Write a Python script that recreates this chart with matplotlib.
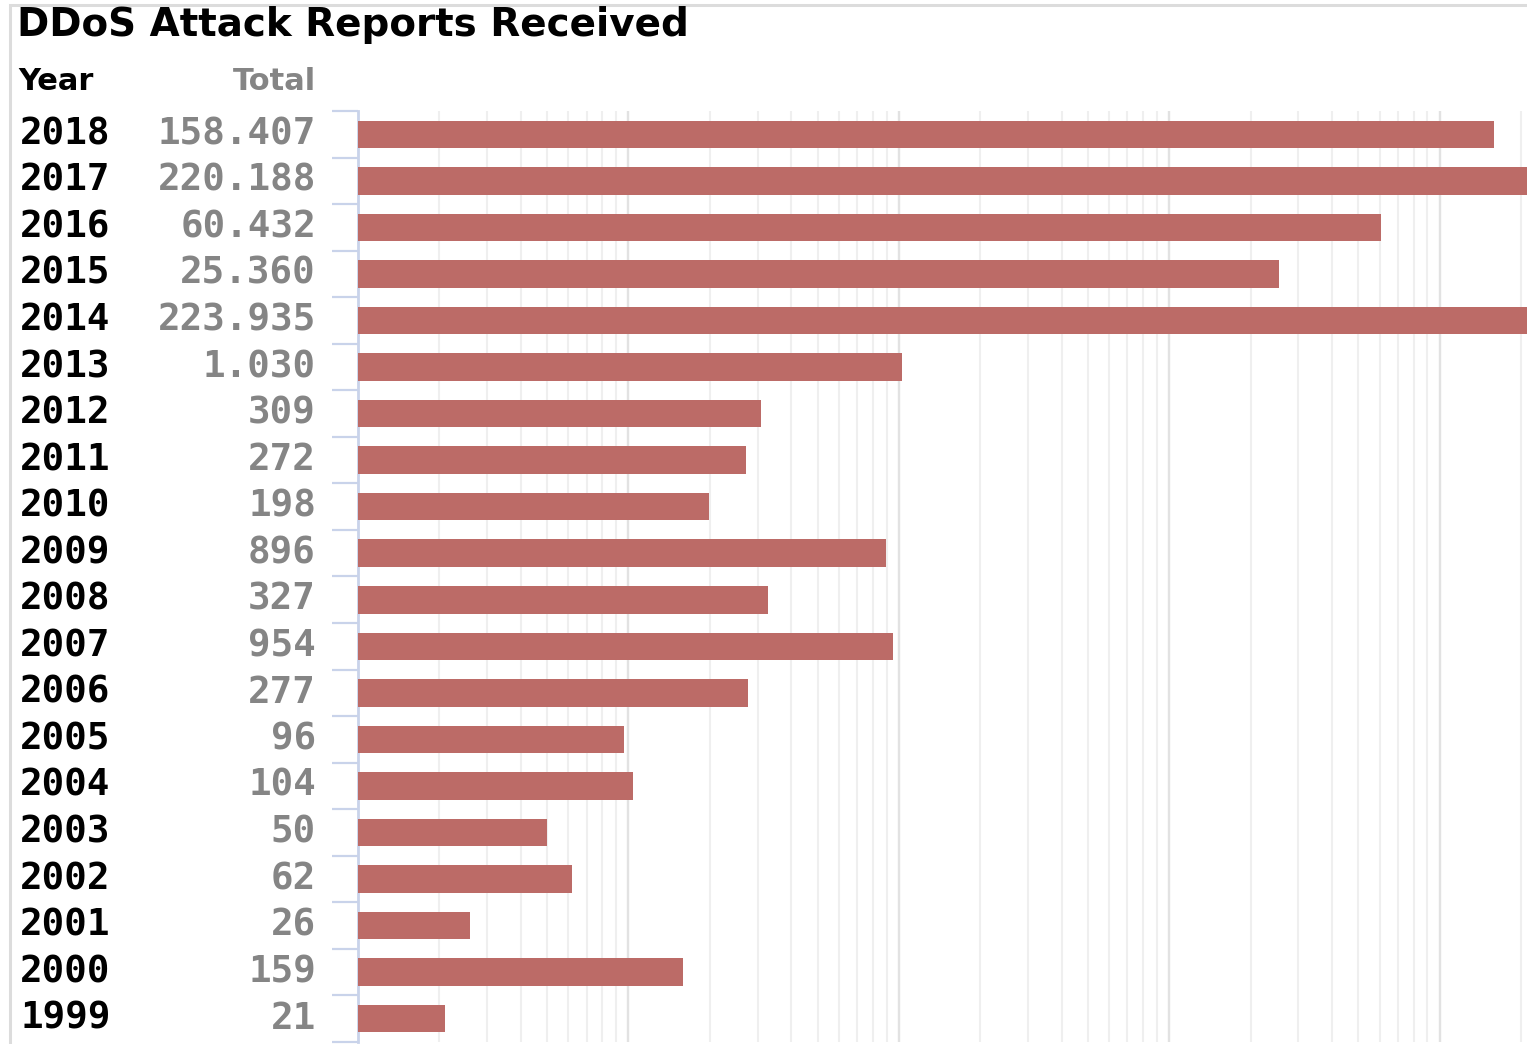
import matplotlib
matplotlib.use("Agg")
import matplotlib.pyplot as plt
from matplotlib.patches import Rectangle
from matplotlib.transforms import blended_transform_factory
from matplotlib.ticker import LogLocator, NullFormatter, FixedLocator
import numpy as np

years = ['2018', '2017', '2016', '2015', '2014', '2013', '2012', '2011', '2010', '2009',
         '2008', '2007', '2006', '2005', '2004', '2003', '2002', '2001', '2000', '1999']
totals = [158407, 220188, 60432, 25360, 223935, 1030, 309, 272, 198, 896,
          327, 954, 277, 96, 104, 50, 62, 26, 159, 21]

W, H = 1527, 1044
fig = plt.figure(figsize=(W / 100, H / 100), dpi=100)
ax = fig.add_axes([358 / W, 1 - 1042 / H, 1 - 358 / W, (1042 - 111) / H])

y = np.arange(len(years))
ax.barh(y, totals, height=0.59, color='#bc6b67', zorder=3)
ax.set_xscale('log')
ax.set_xlim(10, 2.1e5)
ax.set_ylim(len(years) - 0.5, -0.5)

# log grid
ax.xaxis.set_major_locator(LogLocator(base=10))
ax.xaxis.set_minor_locator(LogLocator(base=10, subs=np.arange(2, 10)))
ax.xaxis.set_major_formatter(NullFormatter())
ax.xaxis.set_minor_formatter(NullFormatter())
ax.grid(True, which='major', axis='x', color='#e2e2e2', linewidth=1.7)
ax.grid(True, which='minor', axis='x', color='#efefef', linewidth=1.5)
ax.set_axisbelow(True)
ax.tick_params(axis='x', which='both', length=0)

# y ticks at the row boundaries
ax.yaxis.set_major_locator(FixedLocator([]))
ax.yaxis.set_minor_locator(FixedLocator(np.arange(-0.5, len(years), 1.0)))
ax.tick_params(axis='y', which='minor', length=19, width=1.6, color='#c9d3ea', direction='out')
ax.yaxis.set_minor_formatter(NullFormatter())

for s in ['top', 'right', 'bottom']:
    ax.spines[s].set_visible(False)
ax.spines['left'].set_color('#c9d3ea')
ax.spines['left'].set_linewidth(2)

# table columns
tr = blended_transform_factory(fig.transFigure, ax.transData)
for i, (yr, t) in enumerate(zip(years, totals)):
    fig.text(20 / W, i, yr, transform=tr, ha='left', va='center',
             fontsize=27, fontweight='bold', color='black', family='DejaVu Sans Mono')
    fig.text(316 / W, i, f"{t:,}".replace(",", "."), transform=tr, ha='right', va='center',
             fontsize=27, fontweight='bold', color='#858585', family='DejaVu Sans Mono')

fig.text(18 / W, 1 - 82 / H, 'Year', ha='left', va='center', fontsize=22,
         fontweight='bold', color='black')
fig.text(316 / W, 1 - 82 / H, 'Total', ha='right', va='center', fontsize=22,
         fontweight='bold', color='#858585')
fig.text(17 / W, 1 - 25 / H, 'DDoS Attack Reports Received', ha='left', va='center',
         fontsize=28, fontweight='bold', color='black')

# outer frame
fig.patches.append(Rectangle((10 / W, -0.1), 1.2, 1 - 5 / H + 0.1, transform=fig.transFigure,
                             fill=False, edgecolor='#dcdcdc', linewidth=2.2))

fig.savefig('out.png', dpi=100)
